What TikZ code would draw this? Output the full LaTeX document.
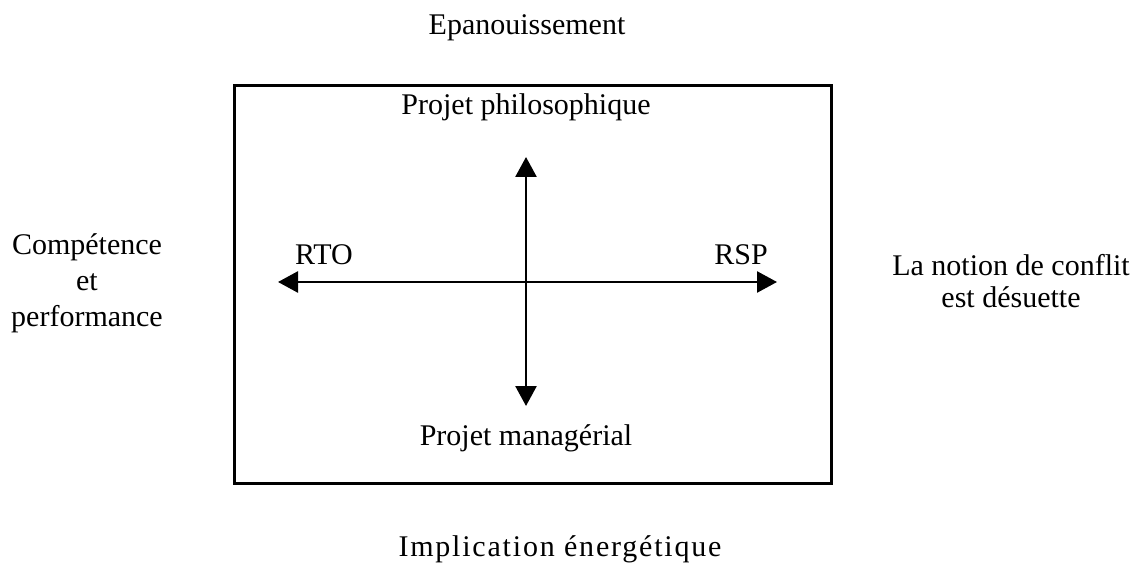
\documentclass[tikz,border=0pt]{standalone}
\usepackage{fontspec}
\setmainfont{Liberation Serif}
\usetikzlibrary{arrows.meta}
\begin{document}
\begin{tikzpicture}[x=0.5pt,y=-0.5pt,
  label/.style={font=\fontsize{15pt}{17pt}\selectfont, inner sep=0pt, anchor=base},
  axis/.style={line width=1.3pt, {Triangle[length=10pt,width=10.5pt]}-{Triangle[length=10pt,width=10.5pt]}}]
  \useasboundingbox (0,0) rectangle (1139,571);
  % frame
  \node[draw, line width=1.6pt, minimum width=298.5pt, minimum height=199pt, inner sep=0pt, anchor=north west] (frame) at (233,84) {};
  % axis end points
  \coordinate (west) at (278,282);
  \coordinate (east) at (777,282);
  \coordinate (north) at (526,157);
  \coordinate (south) at (526,406);
  \draw[axis] (west) -- (east);
  \draw[axis] (north) -- (south);
  % labels
  \node[label] (top) at (527,35) {Epanouissement};
  \node[label] (bottom) at (560,556) {\addfontfeature{LetterSpace=6}Implication énergétique};
  \node[label] (rto) at (324,265) {RTO};
  \node[label] (rsp) at (741,265) {RSP};
  \node[label] (philo) at (526,115) {Projet philosophique};
  \node[label] (manag) at (526,445) {Projet managérial};
  % multi-line nodes sit on the baseline of their last line
  \node[label, align=center, font=\fontsize{15pt}{18pt}\selectfont] (left) at (87,327) {Compétence\\et\\performance};
  \node[label, align=center, font=\fontsize{15pt}{16.5pt}\selectfont] (right) at (1011,308) {La notion de conflit\\est désuette};
\end{tikzpicture}
\end{document}
